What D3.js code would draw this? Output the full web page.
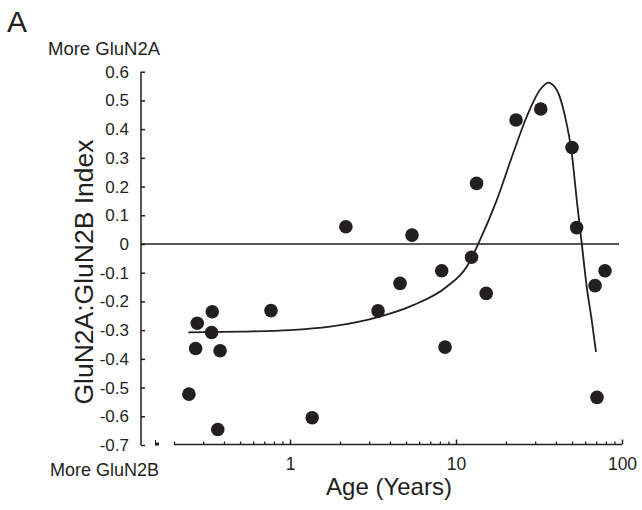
<!DOCTYPE html>
<html>
<head>
<meta charset="utf-8">
<script src="https://cdnjs.cloudflare.com/ajax/libs/d3/7.8.5/d3.min.js"></script>
<style>
    body { margin: 0; background: #fff; }
    text { font-family: "Liberation Sans", Arial, sans-serif; fill: #231f20; }
</style>
</head>
<body>
<script>
    //Data: age in years, GluN2A:GluN2B index
    var ages = [0.246, 0.270, 0.276, 0.337, 0.340, 0.367, 0.379, 0.768, 1.36, 2.17,
                3.39, 4.6, 5.43, 8.2, 8.59, 12.4, 13.3, 15.2, 23.0, 32.4,
                50.0, 53.3, 68.8, 70.7, 79.0];
    var index = [-0.523, -0.364, -0.276, -0.308, -0.236, -0.646, -0.372, -0.232, -0.605, 0.060,
                 -0.233, -0.137, 0.031, -0.093, -0.359, -0.046, 0.211, -0.172, 0.432, 0.470,
                 0.336, 0.057, -0.145, -0.534, -0.093];

    //Fitted curve, points
    var fitAges = [0.244, 0.5, 1.0, 1.74, 3.48, 5.53, 8.79, 11.6, 13.95, 17.6,
                   22.1, 26.7, 32.1, 36.0, 40.4, 45.4, 49.8, 53.4, 57.2, 61.3,
                   65.7, 69.7];
    var fitIndex = [-0.308, -0.305, -0.300, -0.288, -0.253, -0.213, -0.149, -0.079, 0.014, 0.153,
                    0.316, 0.444, 0.537, 0.562, 0.537, 0.444, 0.316, 0.153, 0.002, -0.149,
                    -0.265, -0.376];

    //Tick values
    var yTicks = [0.6, 0.5, 0.4, 0.3, 0.2, 0.1, 0, -0.1, -0.2, -0.3, -0.4, -0.5, -0.6, -0.7];
    var xMajorTicks = [1, 10, 100];
    var xMinorTicks = [0.2, 0.3, 0.4, 0.5, 0.6, 0.7, 0.8, 0.9,
                       2, 3, 4, 5, 6, 7, 8, 9,
                       20, 30, 40, 50, 60, 70, 80, 90];

    var ink = "#231f20";

    var svg = d3.select("body")
        .append("svg")
        .attr("width", 642)
        .attr("height", 510);

    //Scales
    var xScale = d3.scaleLog()
        .domain([0.2, 100])
        .range([174, 622]);

    var yScale = d3.scaleLinear()
        .domain([-0.7, 0.6])
        .range([445, 71.7]);

    var xAxisY = 444.5;
    var yAxisX = 141;

    //Y axis, ticks pointing inward
    var yAxis = d3.axisLeft(yScale)
        .tickValues(yTicks)
        .tickSize(-4)
        .tickPadding(12)
        .tickFormat(function(d) { return d === 0 ? "0" : d.toFixed(1); });

    var gy = svg.append("g")
        .attr("transform", "translate(" + yAxisX + ",0)")
        .call(yAxis);
    gy.select(".domain").remove();
    gy.append("line")
        .attr("x1", 0).attr("x2", 0)
        .attr("y1", yScale(0.6)).attr("y2", yScale(-0.7))
        .attr("stroke", ink).attr("stroke-width", 1.5);
    gy.selectAll(".tick line").attr("stroke", ink).attr("stroke-width", 1.5);
    gy.selectAll(".tick text")
        .attr("font-size", "17px")
        .attr("fill", ink)
        .style("font-family", "'Liberation Sans', Arial, sans-serif");

    //X axis, minor then major ticks
    var gxMinor = svg.append("g")
        .attr("transform", "translate(0," + xAxisY + ")")
        .call(d3.axisBottom(xScale).tickValues(xMinorTicks).tickSize(-3).tickFormat(""));
    gxMinor.select(".domain").remove();
    gxMinor.selectAll(".tick line").attr("stroke", ink).attr("stroke-width", 1.3);

    var gx = svg.append("g")
        .attr("transform", "translate(0," + xAxisY + ")")
        .call(d3.axisBottom(xScale)
            .tickValues(xMajorTicks)
            .tickSize(-5)
            .tickPadding(13)
            .tickFormat(d3.format("d")));
    gx.select(".domain").remove();
    gx.append("line")
        .attr("x1", xScale(0.2)).attr("x2", xScale(100))
        .attr("y1", 0).attr("y2", 0)
        .attr("stroke", ink).attr("stroke-width", 1.5);
    gx.selectAll(".tick line").attr("stroke", ink).attr("stroke-width", 1.5);
    gx.selectAll(".tick text")
        .attr("font-size", "17.5px")
        .attr("fill", ink)
        .style("font-family", "'Liberation Sans', Arial, sans-serif");

    //small break mark at the corner
    svg.append("rect")
        .attr("x", 155).attr("y", 442.5)
        .attr("width", 4).attr("height", 3)
        .attr("fill", ink);
    svg.append("line")
        .attr("x1", 155.5).attr("x2", 155.5)
        .attr("y1", 440).attr("y2", 445.5)
        .attr("stroke", ink).attr("stroke-width", 1);

    //zero line
    svg.append("line")
        .attr("x1", yAxisX).attr("x2", 619)
        .attr("y1", yScale(0)).attr("y2", yScale(0))
        .attr("stroke", ink).attr("stroke-width", 1.5);

    //fitted curve
    var fit = fitAges.map(function(a, i) { return [a, fitIndex[i]]; });
    var line = d3.line()
        .x(function(d) { return xScale(d[0]); })
        .y(function(d) { return yScale(d[1]); })
        .curve(d3.curveMonotoneX);
    svg.append("path")
        .datum(fit)
        .attr("d", line)
        .attr("fill", "none")
        .attr("stroke", ink)
        .attr("stroke-width", 1.8);

    //data points
    var points = ages.map(function(a, i) { return {age: a, idx: index[i]}; });
    svg.selectAll(".dot")
        .data(points)
        .enter().append("circle")
        .attr("class", "dot")
        .attr("cx", function(d) { return xScale(d.age); })
        .attr("cy", function(d) { return yScale(d.idx); })
        .attr("r", 6.8)
        .attr("fill", ink);

    //labels
    svg.append("text")
        .attr("x", 7).attr("y", 32)
        .attr("font-size", "30px")
        .text("A");
    svg.append("text")
        .attr("x", 48).attr("y", 55)
        .attr("font-size", "18.5px")
        .text("More GluN2A");
    svg.append("text")
        .attr("x", 50).attr("y", 476)
        .attr("font-size", "18px")
        .text("More GluN2B");
    svg.append("text")
        .attr("x", 389).attr("y", 495)
        .attr("font-size", "24px")
        .style("text-anchor", "middle")
        .text("Age (Years)");
    svg.append("text")
        .attr("transform", "translate(93,272) rotate(-90)")
        .attr("font-size", "26.5px")
        .style("text-anchor", "middle")
        .text("GluN2A:GluN2B Index");
</script>
</body>
</html>
